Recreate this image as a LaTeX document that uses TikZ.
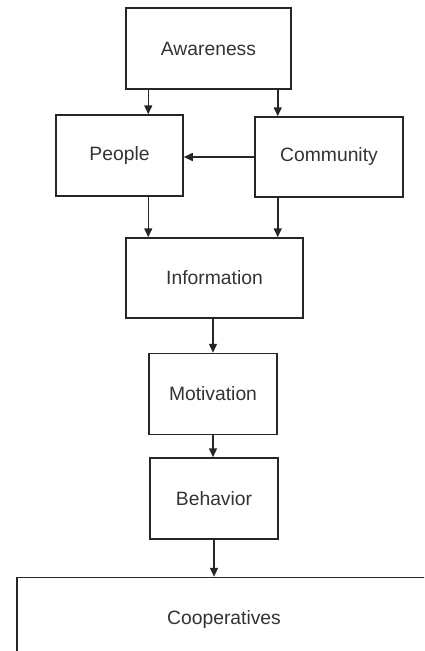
\documentclass[tikz,border=0pt]{standalone}
\usepackage{fontspec}
\setmainfont{Liberation Sans}
\usetikzlibrary{positioning,calc,arrows.meta}

\begin{document}
\begin{tikzpicture}[x=1pt,y=-1pt,>={Triangle[length=9pt,width=8pt]},
    line width=1.5pt,
    box/.style={rectangle,draw=black!85,minimum height=81pt,
      text=black!80,font=\fontsize{19.3}{22}\selectfont},
    flow/.style={->,draw=black!85}]
    \useasboundingbox (0,0) rectangle (424,651);
    \clip (0,0) rectangle (424,651);
    % nodes
      \node[box,minimum width=165pt] (aw) at (208.5,48.5) {Awareness};
      \node[box,minimum width=127pt] (pe) at (119.5,155.5) {People};
      \node[box,minimum width=148pt,minimum height=80pt] (cm) at (329,157) {Community};
      \node[box,minimum width=177pt,minimum height=80pt] (in) at (214.5,278) {Information};
      \node[box,minimum width=128pt] (mo) [below=34pt of in,xshift=-1.5pt] {Motivation};
      \node[box,minimum width=128pt] (be) [below=22pt of mo,xshift=1pt] {Behavior};
      \node[box,minimum width=414pt,minimum height=84pt] (co) [below=37pt of be,xshift=10pt] {Cooperatives};
      % edges
      \coordinate (l) at ($(aw.south west)+(23pt,0)$);
      \coordinate (r) at ($(aw.south east)+(-14pt,0)$);
      \draw[flow] (l) -- (l |- pe.north);
      \draw[flow] (r) -- (r |- cm.north);
      \draw[flow] (cm.west) -- (cm.west -| pe.east);
      \draw[flow] (l |- pe.south) -- (l |- in.north);
      \draw[flow] (r |- cm.south) -- (r |- in.north);
      \draw[flow] (in.south -| mo.north) -- (mo.north);
      \draw[flow] (mo.south) -- (mo.south |- be.north);
      \draw[flow] (be.south) -- (be.south |- co.north);
\end{tikzpicture}
\end{document}
